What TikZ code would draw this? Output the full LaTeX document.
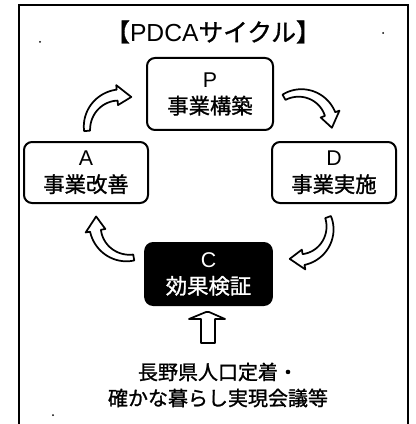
\documentclass[tikz,border=0pt]{standalone}
\usepackage{fontspec}
\newfontfamily\jp{Noto Sans CJK JP}[FakeBold=1.2]
\newfontfamily\lat{Liberation Sans}
\newcommand\cycarrow[6]{%
 \draw[cyc] plot[domain=#4:#5,samples=30] ({#1+(#3+3+2.5*(\x-#4)/(#5-#4))*cos(\x)},{#2+(#3+3+2.5*(\x-#4)/(#5-#4))*sin(\x)})
 -- ({#1+(#3+10)*cos(#5)},{#2+(#3+10)*sin(#5)})
 -- ({#1+#3*cos(#6)},{#2+#3*sin(#6)})
 -- ({#1+(#3-10)*cos(#5)},{#2+(#3-10)*sin(#5)})
 -- plot[domain=#5:#4,samples=30] ({#1+(#3-3-2.5*(\x-#4)/(#5-#4))*cos(\x)},{#2+(#3-3-2.5*(\x-#4)/(#5-#4))*sin(\x)}) -- cycle;}
\begin{document}
\begin{tikzpicture}[x=0.75pt,y=-0.75pt,
  box/.style={draw, line width=1.5pt, rounded corners=6pt, align=center,
    font=\jp\fontsize{16}{20}\selectfont, inner sep=0pt},
  cyc/.style={draw, fill=white, line width=1.3pt, line join=round}]
\useasboundingbox (0,0) rectangle (416,424);
\draw[line width=1.5pt] (19,424) -- (19,5) -- (408,5) -- (408,424);
\node (title) at (213,32) {\jp\fontsize{18.5}{22}\selectfont 【{\lat PDCA}サイクル】};
\node[box, minimum width=94.5pt, minimum height=54pt] (P) at (210,94) {{\lat P}\\事業構築};
\node[box, minimum width=93pt, minimum height=45.75pt] (A) at (86,172.5) {{\lat A}\\事業改善};
\node[box, minimum width=93pt, minimum height=45.75pt] (D) at (334,172.5) {{\lat D}\\事業実施};
\node[box, fill=black, text=white, minimum width=95pt, minimum height=46.5pt] (C) at (208.5,274) {{\lat C}\\効果検証};
\cycarrow{120}{128}{33}{175}{265}{290}
\cycarrow{300}{125}{32}{240}{340}{365}
\cycarrow{298}{228}{32}{340}{440}{465}
\cycarrow{128}{225}{33}{80}{170}{195}
\node[align=center, font=\jp\fontsize{15}{19.5}\selectfont] (src) at (218,385) {長野県人口定着・\\確かな暮らし実現会議等};
\draw[cyc] (201,343) -- (201,319) -- (189,319) -- (206,312) -- (209,312) -- (225,319) -- (215,319) -- (215,343) -- cycle;
\fill (40,42) circle (1);
\fill (383,33) circle (1);
\fill (53,415) circle (1);
\end{tikzpicture}
\end{document}
